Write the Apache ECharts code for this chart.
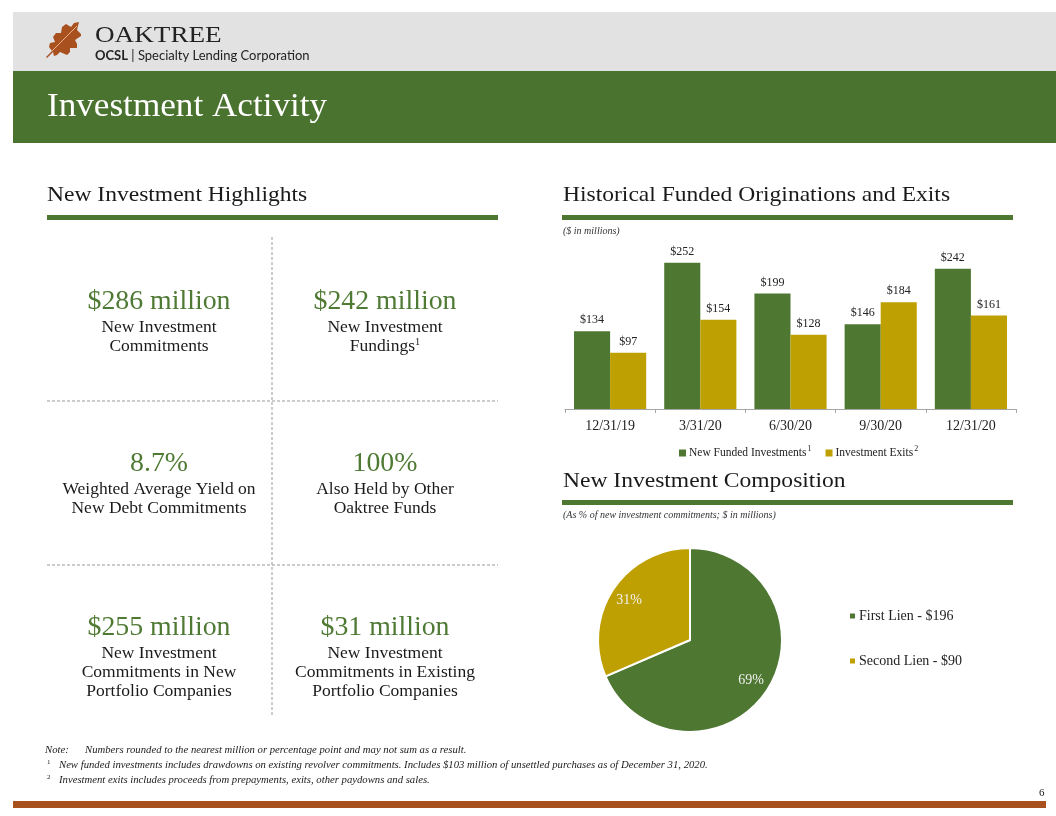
<!DOCTYPE html>
<html>
<head>
<meta charset="utf-8">
<script src="https://cdn.jsdelivr.net/npm/echarts@6/dist/echarts.min.js"></script>
<style>
html,body{margin:0;padding:0;background:#fff;}
#main{width:1056px;height:816px;}
</style>
</head>
<body>
<div id="main"></div>
<script>
// ---------- data ----------
const quarters = ['12/31/19', '3/31/20', '6/30/20', '9/30/20', '12/31/20'];
const newFunded = [134, 252, 199, 146, 242];
const exits = [97, 154, 128, 184, 161];
const barSeriesNames = ['New Funded Investments', 'Investment Exits'];
const barFootnotes = ['1', '2'];

const lienTypes = ['First Lien', 'Second Lien'];
const lienValues = [196, 90];

const highlightValues = ['$286 million', '$242 million', '8.7%', '100%', '$255 million', '$31 million'];
const highlightLabels = [
  'New Investment\nCommitments',
  'New Investment\nFundings{sup|1}',
  'Weighted Average Yield on\nNew Debt Commitments',
  'Also Held by Other\nOaktree Funds',
  'New Investment\nCommitments in New\nPortfolio Companies',
  'New Investment\nCommitments in Existing\nPortfolio Companies'
];
const footnotes = [
  'Numbers rounded to the nearest million or percentage point and may not sum as a result.',
  'New funded investments includes drawdowns on existing revolver commitments. Includes $103 million of unsettled purchases as of December 31, 2020.',
  'Investment exits includes proceeds from prepayments, exits, other paydowns and sales.'
];

// ---------- styles ----------
const GREEN = '#4E7732';
const GOLD = '#BFA003';
const RUST = '#A9501F';
const SERIF = '"Liberation Serif", "DejaVu Serif", serif';
const TEXT = '#1a1a1a';

const pieNames = lienTypes.map((t, i) => t + ' - $' + lienValues[i]);
const pieData = pieNames.map((n, i) => ({name: n, value: lienValues[i], itemStyle: {color: i === 0 ? GREEN : GOLD}}));
const pieTotal = lienValues.reduce((a, b) => a + b, 0);

// ---------- graphic elements ----------
const g = [];
const txt = (x, y, text, font, fill, extra, sx) => g.push({type: 'text', x: x, y: y, scaleX: sx || 1, silent: true,
  style: Object.assign({text: text, font: font, fill: fill, textAlign: 'left', textVerticalAlign: 'middle'}, extra || {})});

// header bands
g.push({type: 'rect', shape: {x: 13, y: 12, width: 1043, height: 59}, style: {fill: '#E2E2E2'}, silent: true});
g.push({type: 'rect', shape: {x: 13, y: 71, width: 1043, height: 72}, style: {fill: '#4B7330'}, silent: true});
txt(47, 107, 'Investment Activity', '33px ' + SERIF, '#ffffff', null, 1.065);
// oak leaf logo
g.push({type: 'polygon', x: 44, y: 19, silent: true,
  shape: {points: [[2,38],[8,32],[5,28],[6,24],[11,23],[9,18],[12,14],[17,14],[18,8],[22,5],[27,8],[30,4],[35,3],[33,11],[37,15],[37,17],[31,21],[33,25],[33,29],[26,29],[26,33],[23,36],[16,33],[13,36],[10,37],[9,33],[3,39]]},
  style: {fill: RUST}});
g.push({type: 'polyline', x: 44, y: 19, shape: {points: [[8, 32], [17, 23], [26, 14], [33, 7]]}, style: {stroke: '#E9B48F', lineWidth: 1, fill: null}, silent: true});
txt(95, 36, 'OAKTREE', '23px ' + SERIF, '#222', null, 1.18);
txt(95, 56, '{b|OCSL} | Specialty Lending Corporation', '13px Lato, "Open Sans", sans-serif', '#222',
  {rich: {b: {fontWeight: 'bold', fontSize: 13, fontFamily: 'Lato, "Open Sans", sans-serif', fill: '#222'}}});

// section headers + rules
txt(47, 195, 'New Investment Highlights', '22px ' + SERIF, TEXT, null, 1.07);
txt(563, 195, 'Historical Funded Originations and Exits', '22px ' + SERIF, TEXT, null, 1.07);
txt(563, 481, 'New Investment Composition', '22px ' + SERIF, TEXT, null, 1.07);
g.push({type: 'rect', shape: {x: 47, y: 215, width: 451, height: 5}, style: {fill: GREEN}, silent: true});
g.push({type: 'rect', shape: {x: 562, y: 215, width: 451, height: 5}, style: {fill: GREEN}, silent: true});
g.push({type: 'rect', shape: {x: 562, y: 500, width: 451, height: 5}, style: {fill: GREEN}, silent: true});
txt(563, 231, '($ in millions)', 'italic 10px ' + SERIF, '#333');
txt(563, 515, '(As % of new investment commitments; $ in millions)', 'italic 10px ' + SERIF, '#333');

// highlight grid (dashed)
const dash = {stroke: '#999999', lineWidth: 1, lineDash: [3, 2]};
g.push({type: 'line', shape: {x1: 272, y1: 237, x2: 272, y2: 716}, style: dash, silent: true});
g.push({type: 'line', shape: {x1: 47, y1: 401, x2: 498, y2: 401}, style: dash, silent: true});
g.push({type: 'line', shape: {x1: 47, y1: 565, x2: 498, y2: 565}, style: dash, silent: true});

const colX = [159, 385];
const rowY = [302, 464, 628];
highlightValues.forEach((v, i) => {
  const cx = colX[i % 2], cy = rowY[Math.floor(i / 2)];
  txt(cx, cy, v, '27px ' + SERIF, '#4F7A34', {textAlign: 'center'}, 1.03);
  g.push({type: 'text', x: cx, y: cy + 16, scaleX: 1.03, silent: true,
    style: {text: highlightLabels[i], font: '17px ' + SERIF, fill: TEXT, textAlign: 'center', textVerticalAlign: 'top', lineHeight: 19,
      rich: {sup: {fontSize: 10, fontFamily: SERIF, verticalAlign: 'top', lineHeight: 12, fill: TEXT}}}});
});

// footnotes
const FN = 'italic 10.7px ' + SERIF;
txt(45, 750, 'Note:', FN, TEXT);
txt(85, 750, footnotes[0], FN, TEXT);
txt(47, 762, '1', '7px ' + SERIF, TEXT);
txt(59, 765, footnotes[1], FN, TEXT);
txt(47, 777, '2', '7px ' + SERIF, TEXT);
txt(59, 780, footnotes[2], FN, TEXT);
txt(1039, 793, '6', '11px ' + SERIF, TEXT);
g.push({type: 'rect', shape: {x: 13, y: 801, width: 1033, height: 7}, style: {fill: RUST}, silent: true});

// ---------- chart ----------
const chart = echarts.init(document.getElementById('main'), null, {renderer: 'canvas'});
const supRich = {sup: {fontSize: 8, fontFamily: SERIF, color: '#222', verticalAlign: 'top', padding: [0, 0, 8, 1]}};
chart.setOption({
  animation: false,
  backgroundColor: '#ffffff',
  textStyle: {fontFamily: SERIF},
  graphic: {elements: g},
  grid: {left: 565, right: 40, top: 235, bottom: 407, containLabel: false},
  xAxis: {
    type: 'category', data: quarters,
    axisLine: {lineStyle: {color: '#a6a6a6', width: 1}},
    axisTick: {show: true, length: 4, lineStyle: {color: '#a6a6a6'}},
    axisLabel: {fontFamily: SERIF, fontSize: 14, color: '#222', margin: 10}
  },
  yAxis: {type: 'value', min: 0, max: 300, show: false, splitLine: {show: false}},
  legend: [{
    data: barSeriesNames, left: 674, top: 440, itemWidth: 7, itemHeight: 7, itemGap: 14, icon: 'rect',
    formatter: name => name + '{sup|' + barFootnotes[barSeriesNames.indexOf(name)] + '}',
    textStyle: {fontFamily: SERIF, fontSize: 11.5, color: '#222', padding: [0, 0, 0, -2], rich: supRich}
  }, {
    data: pieNames, orient: 'vertical', left: 843, top: 604, itemWidth: 7, itemHeight: 7, itemGap: 31, icon: 'rect',
    textStyle: {fontFamily: SERIF, fontSize: 14, color: '#222', padding: [0, 0, 0, -2]}
  }],
  series: [{
    name: barSeriesNames[0], type: 'bar', data: newFunded, barGap: '0%', barCategoryGap: '20%',
    itemStyle: {color: GREEN},
    label: {show: true, position: 'top', distance: 5, formatter: p => '$' + p.value, fontFamily: SERIF, fontSize: 12, color: '#222'}
  }, {
    name: barSeriesNames[1], type: 'bar', data: exits, barGap: '0%', barCategoryGap: '20%',
    itemStyle: {color: GOLD},
    label: {show: true, position: 'top', distance: 5, formatter: p => '$' + p.value, fontFamily: SERIF, fontSize: 12, color: '#222'}
  }, {
    name: 'Composition', type: 'pie', center: [690, 640], radius: 92, startAngle: 90, clockwise: true,
    data: pieData, label: {show: false}, labelLine: {show: false},
    itemStyle: {borderColor: '#ffffff', borderWidth: 2}
  }, {
    name: 'CompositionLabels', type: 'pie', center: [690, 640], radius: [48, 92], startAngle: 90, clockwise: true,
    data: pieData.map(d => ({name: d.name, value: d.value, itemStyle: {color: 'rgba(0,0,0,0)'}})),
    silent: true, legendHoverLink: false, labelLine: {show: false},
    itemStyle: {borderWidth: 0},
    label: {show: true, position: 'inside', formatter: p => Math.round(p.value / pieTotal * 100) + '%', fontFamily: SERIF, fontSize: 14, color: '#f2f2f2'}
  }]
});
</script>
</body>
</html>
